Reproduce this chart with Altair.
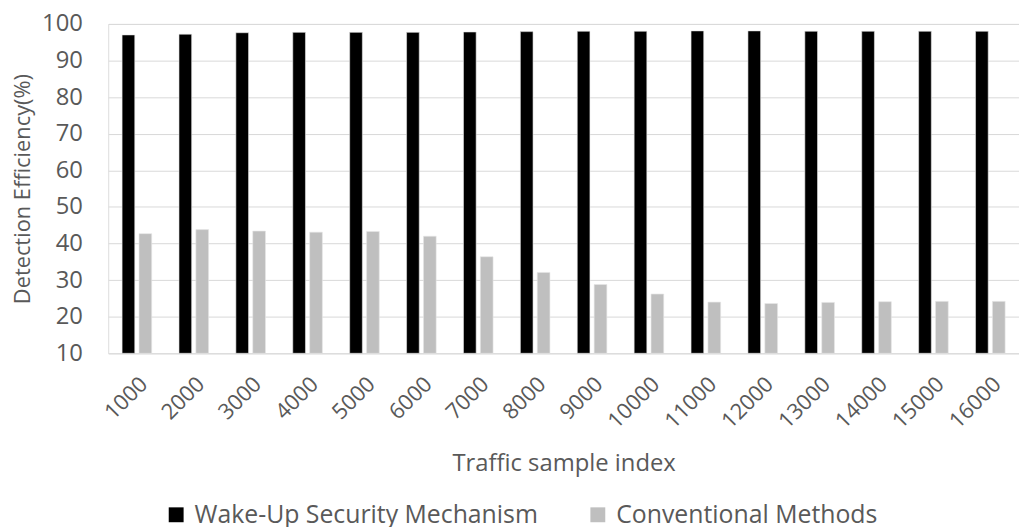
import altair as alt
import pandas as pd

categories = ["1000", "2000", "3000", "4000", "5000", "6000", "7000", "8000",
              "9000", "10000", "11000", "12000", "13000", "14000", "15000", "16000"]
wake_up = [97.0, 97.2, 97.6, 97.7, 97.7, 97.7, 97.8, 97.9,
           98.0, 98.0, 98.1, 98.1, 98.0, 98.0, 98.0, 98.0]
conventional = [42.7, 43.8, 43.4, 43.1, 43.3, 42.0, 36.4, 32.1,
                28.8, 26.2, 24.0, 23.6, 23.9, 24.1, 24.2, 24.2]
series = ["Wake-Up Security Mechanism", "Conventional Methods"]
colors = ["#000000", "#bfbfbf"]

rows = []
for i, c in enumerate(categories):
    rows.append({"idx": c, "series": series[0], "value": wake_up[i]})
    rows.append({"idx": c, "series": series[1], "value": conventional[i]})
df = pd.DataFrame(rows)

FONT = "Open Sans"
GREY = "#595959"

chart = alt.Chart(df).mark_bar(stroke="#e6e6e6", strokeWidth=0.6).encode(
    x=alt.X("idx:N", sort=categories,
            scale=alt.Scale(paddingInner=0.48, paddingOuter=0.244),
            axis=alt.Axis(title="Traffic sample index", labelAngle=-45,
                          labelFontSize=22, labelColor=GREY, labelFont=FONT,
                          titleFontSize=24, titleColor=GREY, titleFont=FONT,
                          titleFontWeight="normal", titleY=111, titleBaseline="middle",
                          ticks=False, domain=False, labelPadding=20)),
    xOffset=alt.XOffset("series:N", sort=series,
                        scale=alt.Scale(paddingInner=0.25, paddingOuter=0)),
    y=alt.Y("value:Q", scale=alt.Scale(domain=[10, 100], nice=False),
            axis=alt.Axis(title="Detection Efficiency(%)", values=list(range(10, 101, 10)),
                          labelFontSize=24, labelColor=GREY, labelFont=FONT,
                          titleFontSize=22, titleColor=GREY, titleFont=FONT,
                          titleFontWeight="normal", titlePadding=7,
                          ticks=False, domain=False, labelPadding=26,
                          gridColor="#d9d9d9", gridWidth=1)),
    y2=alt.datum(10),
    color=alt.Color("series:N", sort=series,
                    scale=alt.Scale(domain=series, range=colors),
                    legend=alt.Legend(title=None, orient="none", direction="horizontal",
                                      legendX=56, legendY=482,
                                      symbolType="square", symbolSize=225,
                                      symbolStrokeWidth=0, symbolOffset=0,
                                      labelFontSize=25, labelColor=GREY, labelFont=FONT,
                                      labelOffset=6,
                                      columnPadding=47, labelLimit=500)),
).properties(
    width=918, height=332,
    padding={"left": 101, "top": 14, "right": 0, "bottom": 173},
    autosize=alt.AutoSizeParams(type="none"),
).configure_view(stroke=None).configure(font=FONT)

chart.save("out.html", embed_options={"renderer": "svg", "actions": False})
